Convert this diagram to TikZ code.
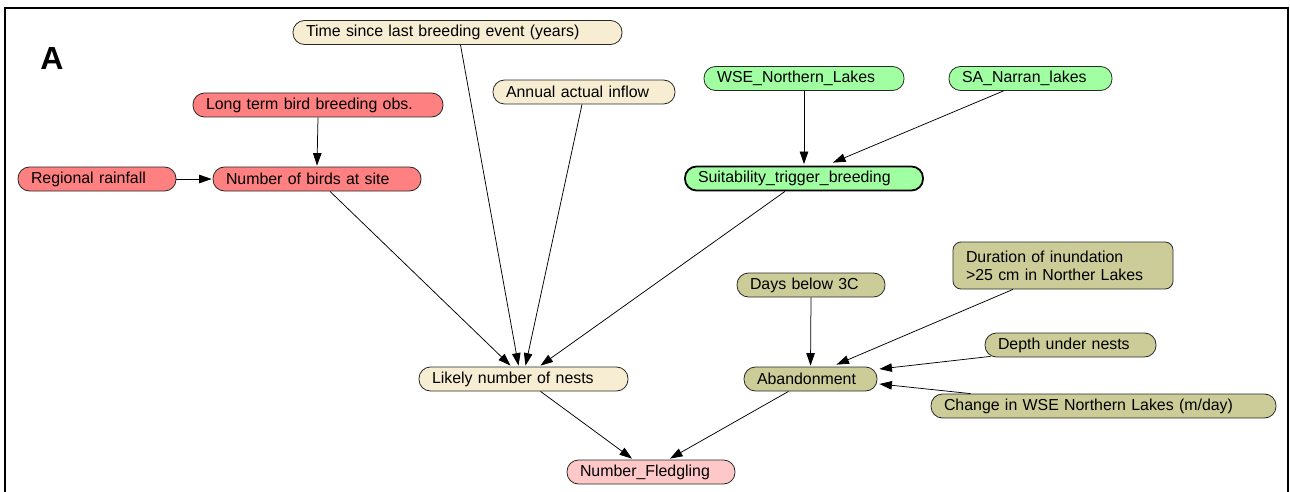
\documentclass[tikz,border=0pt]{standalone}
\usepackage{fontspec}
\setmainfont{Liberation Sans}
\usetikzlibrary{arrows.meta,calc}

\definecolor{redfill}{RGB}{255,128,128}
\definecolor{pinkfill}{RGB}{255,200,200}
\definecolor{creamfill}{RGB}{247,237,210}
\definecolor{greenfill}{RGB}{160,255,160}
\definecolor{olivefill}{RGB}{204,204,153}
\definecolor{edgegray}{RGB}{40,40,40}

\tikzset{
  nodebox/.style={draw=edgegray, line width=0.8pt, rounded corners=11.5pt,
    minimum height=24pt, inner xsep=13pt, inner ysep=0pt,
    text width=#1-26pt, align=left, font=\fontsize{15.9}{18}\selectfont},
  redn/.style={nodebox=#1, fill=redfill},
  pinkn/.style={nodebox=#1, fill=pinkfill},
  creamn/.style={nodebox=#1, fill=creamfill},
  greenn/.style={nodebox=#1, fill=greenfill},
  oliven/.style={nodebox=#1, fill=olivefill},
  link/.style={draw=black, line width=0.75pt,
    -{Triangle[length=12.5pt,width=8.5pt]}},
}

\begin{document}
\begin{tikzpicture}[x=1pt,y=-1pt]
  \useasboundingbox (0,0) rectangle (1290,492);

  % panel frame, open at the bottom
  \draw[line width=2pt] (5,492) -- (5,8) -- (1288,8) -- (1288,492);

  % panel letter
  \node[font=\bfseries\fontsize{32}{34}\selectfont] (lblA) at (52,58) {A};

  % input and intermediate variables
  \node[creamn=329pt] (time)   at (457.5,32.5) {Time since last breeding event (years)};
  \node[redn=250pt]   (obs)    at (318,105)  {Long term bird breeding obs.};
  \node[creamn=182pt] (inflow) at (584,92)   {Annual actual inflow};
  \node[greenn=200pt] (wse)    at (804,78.5) {WSE\_Northern\_Lakes};
  \node[greenn=163pt] (sa)     at (1030.5,78.5) {SA\_Narran\_lakes};
  \node[redn=158pt]   (rain)   at (97,179)   {Regional rainfall};
  \node[redn=208pt]   (birds)  at (317,179)  {Number of birds at site};
  \node[greenn=238pt, line width=1.8pt, draw=black] (suit) at (804,178.5) {Suitability\_trigger\_breeding};
  \node[oliven=220pt, minimum height=47pt, rounded corners=8pt] (dur) at (1063,265.5)
        {Duration of inundation\\>25 cm in Norther Lakes};
  \node[oliven=148pt] (days)   at (811,285)  {Days below 3C};
  \node[oliven=171pt] (depth)  at (1070.5,345) {Depth under nests};
  \node[creamn=209pt] (nests)  at (523.5,379) {Likely number of nests};
  \node[oliven=133pt] (aband)  at (810.5,379) {Abandonment};
  \node[oliven=345pt] (change) at (1103.5,406) {Change in WSE Northern Lakes (m/day)};
  \node[pinkn=168pt]  (fledg)  at (651,472)  {Number\_Fledgling};

  % links
  \draw[link] (obs.south) -- ($(birds.north)+(0,-1)$);
  \draw[link] (rain.east) -- ($(birds.west)+(-1,0)$);
  \draw[link] ($(birds.south)+(13,0)$) -- ($(nests.north)+(-13,-1)$);
  \draw[link] ($(time.south)+(3,0)$) -- ($(nests.north)+(-5,-1)$);
  \draw[link] ($(inflow.south)+(-2,0)$) -- ($(nests.north)+(2,-1)$);
  \draw[link] ($(suit.south)+(-19,0)$) -- ($(nests.north)+(17,-1)$);
  \draw[link] (wse.south) -- ($(suit.north)+(0,-1.5)$);
  \draw[link] ($(sa.south)+(-27,0)$) -- ($(suit.north)+(29,-3)$);
  \draw[link] (days.south) -- ($(aband.north)+(0,-1)$);
  \draw[link] ($(dur.south)+(-50,0)$) -- ($(aband.north)+(26,-2)$);
  \draw[link] ($(depth.south)+(-80,-1)$) -- ($(aband.east)+(2,-10)$);
  \draw[link] ($(change.north)+(-133,0)$) -- ($(aband.east)+(2,5)$);
  \draw[link] ($(nests.south)+(17,0)$) -- ($(fledg.north)+(-19,-1)$);
  \draw[link] ($(aband.south)+(-22,0)$) -- ($(fledg.north)+(19,-1)$);
\end{tikzpicture}
\end{document}
